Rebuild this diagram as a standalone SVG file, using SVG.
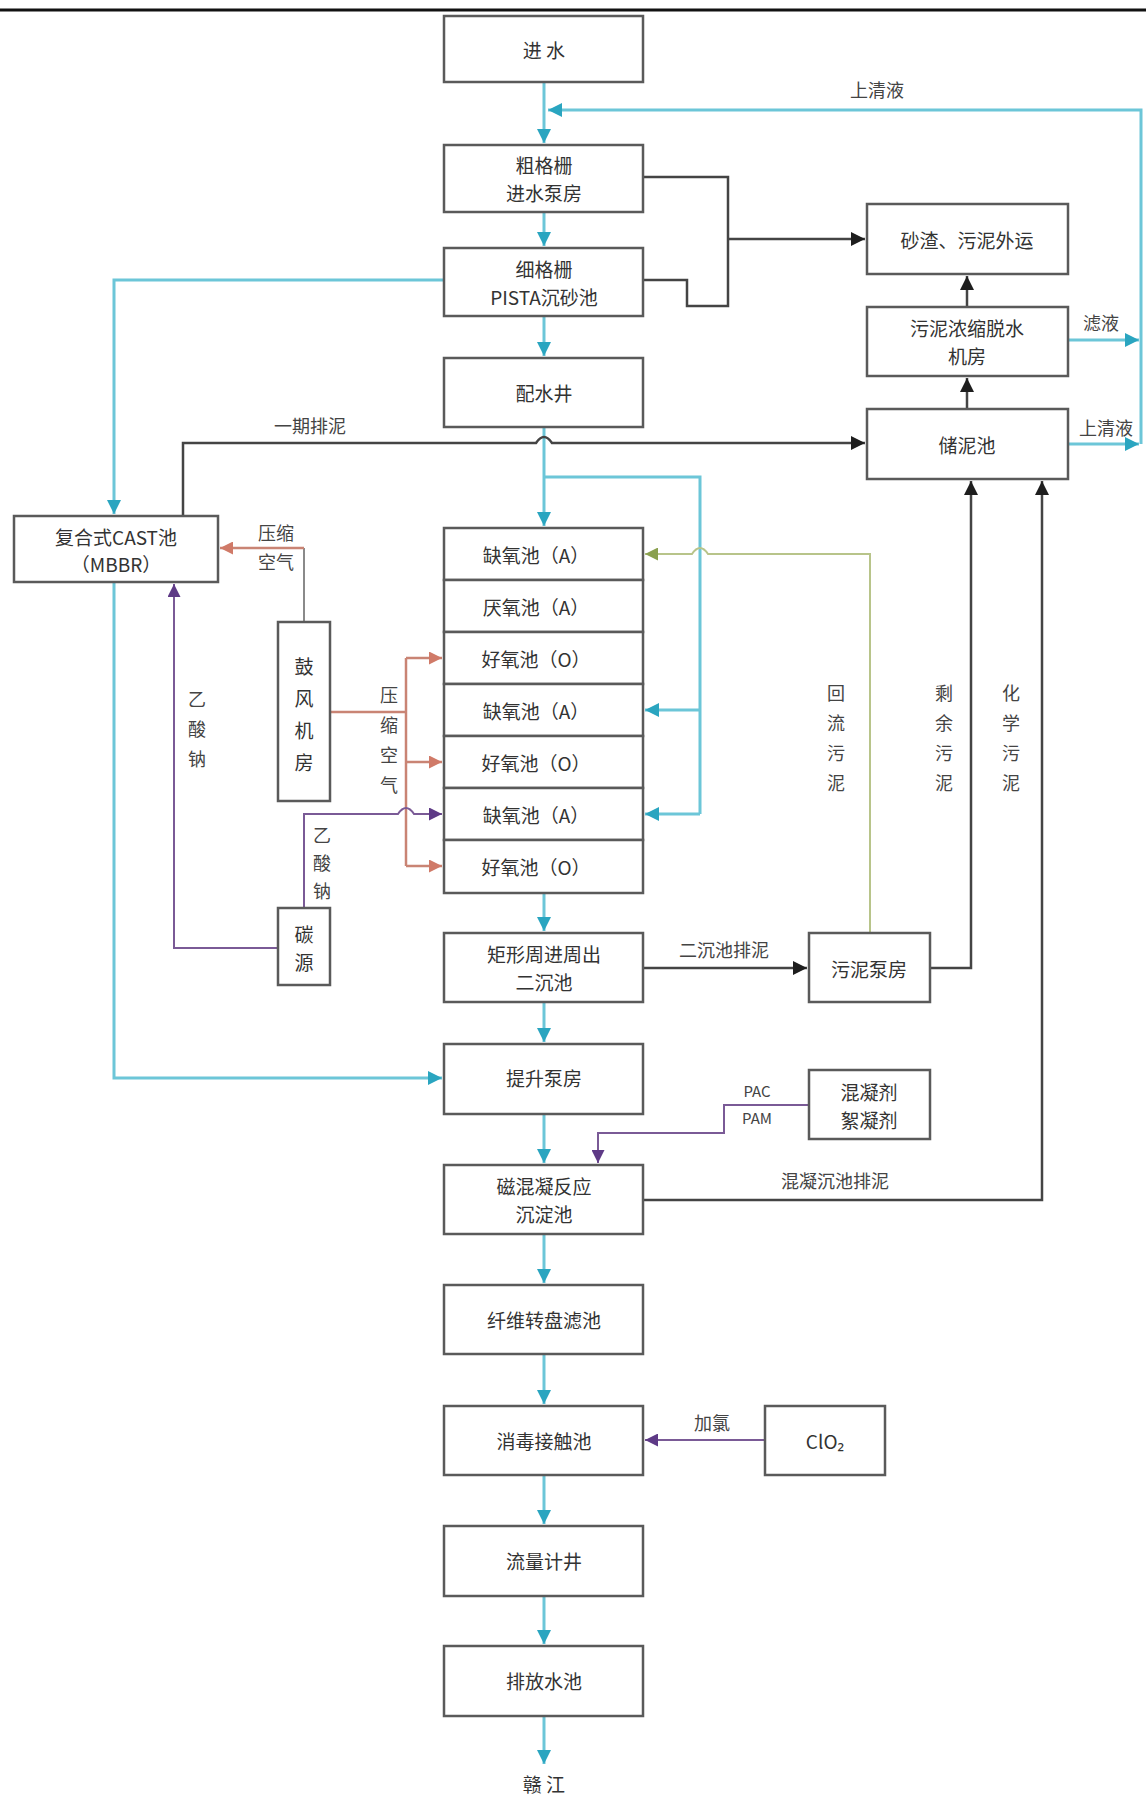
<svg xmlns="http://www.w3.org/2000/svg" width="1146" height="1796" viewBox="0 0 1146 1796">
<style>
.box{fill:#fff;stroke:#5a5a5a;stroke-width:2.5}
.t{font-family:"Noto Sans CJK SC","Noto Sans",sans-serif;font-size:19px;fill:#333;text-anchor:middle;dominant-baseline:central}
.l{font-family:"Noto Sans CJK SC","Noto Sans",sans-serif;font-size:18px;fill:#444;text-anchor:middle;dominant-baseline:central}
.cy{fill:none;stroke:#6cc6d8;stroke-width:3}
.bk{fill:none;stroke:#444;stroke-width:2.5}
.rd{fill:none;stroke:#c98474;stroke-width:2.5}
.gy{fill:none;stroke:#8a8a8a;stroke-width:2}
.pu{fill:none;stroke:#7a5a96;stroke-width:2}
.gr{fill:none;stroke:#b8c48a;stroke-width:2}
</style>
<defs>
<marker id="ac" viewBox="0 0 10 10" refX="10" refY="5" markerWidth="14" markerHeight="14" markerUnits="userSpaceOnUse" orient="auto"><path d="M0,0 L10,5 L0,10 z" fill="#2aa5c0"/></marker>
<marker id="ab" viewBox="0 0 10 10" refX="10" refY="5" markerWidth="14" markerHeight="14" markerUnits="userSpaceOnUse" orient="auto"><path d="M0,0 L10,5 L0,10 z" fill="#1e1e1e"/></marker>
<marker id="ar" viewBox="0 0 10 10" refX="10" refY="5" markerWidth="13" markerHeight="13" markerUnits="userSpaceOnUse" orient="auto"><path d="M0,0 L10,5 L0,10 z" fill="#d07a68"/></marker>
<marker id="ap" viewBox="0 0 10 10" refX="10" refY="5" markerWidth="13" markerHeight="13" markerUnits="userSpaceOnUse" orient="auto"><path d="M0,0 L10,5 L0,10 z" fill="#5e3a86"/></marker>
<marker id="ag" viewBox="0 0 10 10" refX="10" refY="5" markerWidth="13" markerHeight="13" markerUnits="userSpaceOnUse" orient="auto"><path d="M0,0 L10,5 L0,10 z" fill="#8aa04e"/></marker>
</defs>
<rect width="1146" height="1796" fill="#fff"/>
<line x1="0" y1="10" x2="1146" y2="10" stroke="#111" stroke-width="3"/>

<g id="connectors">
<!-- main flow -->
<path class="cy" d="M544,82 V143" marker-end="url(#ac)"/>
<path class="cy" d="M544,212 V246" marker-end="url(#ac)"/>
<path class="cy" d="M544,316 V356" marker-end="url(#ac)"/>
<path class="cy" d="M544,427 V526" marker-end="url(#ac)"/>
<path class="cy" d="M544,893 V931" marker-end="url(#ac)"/>
<path class="cy" d="M544,1002 V1042" marker-end="url(#ac)"/>
<path class="cy" d="M544,1114 V1163" marker-end="url(#ac)"/>
<path class="cy" d="M544,1234 V1283" marker-end="url(#ac)"/>
<path class="cy" d="M544,1354 V1404" marker-end="url(#ac)"/>
<path class="cy" d="M544,1475 V1524" marker-end="url(#ac)"/>
<path class="cy" d="M544,1596 V1644" marker-end="url(#ac)"/>
<path class="cy" d="M544,1716 V1764" marker-end="url(#ac)"/>
<!-- supernatant return -->
<path class="cy" d="M1141,444 V110 H548" marker-end="url(#ac)"/>
<path class="cy" d="M1068,340 H1139" marker-end="url(#ac)"/>
<path class="cy" d="M1068,444 H1139" marker-end="url(#ac)"/>
<!-- bypass to CAST and lift pump -->
<path class="cy" d="M444,280 H114 V514" marker-end="url(#ac)"/>
<path class="cy" d="M114,582 V1078 H442" marker-end="url(#ac)"/>
<!-- distribution to anoxic tanks -->
<path class="cy" d="M544,477 H700 V814"/>
<path class="cy" d="M700,710 H645" marker-end="url(#ac)"/>
<path class="cy" d="M700,814 H645" marker-end="url(#ac)"/>
<!-- screenings -->
<path class="bk" d="M643,177 H728 V306 H687 V280 H643"/>
<path class="bk" d="M728,239 H865" marker-end="url(#ab)"/>
<path class="bk" d="M967,409 V378" marker-end="url(#ab)"/>
<path class="bk" d="M967,307 V276" marker-end="url(#ab)"/>
<!-- phase 1 sludge -->
<path class="bk" d="M183,516 V443 H536 q8,-12 16,0 H865" marker-end="url(#ab)"/>
<!-- return sludge -->
<path class="gr" d="M870,933 V554 H708 q-8,-12 -16,0 H645" marker-end="url(#ag)"/>
<!-- secondary clarifier sludge -->
<path class="bk" d="M643,968 H807" marker-end="url(#ab)"/>
<path class="bk" d="M930,968 H971 V481" marker-end="url(#ab)"/>
<path class="bk" d="M643,1200 H1042 V481" marker-end="url(#ab)"/>
<!-- compressed air -->
<path class="gy" d="M304,622 V548"/>
<path class="rd" d="M304,548 H220" marker-end="url(#ar)"/>
<path class="rd" d="M330,712 H406"/>
<path class="rd" d="M406,658 V866"/>
<path class="rd" d="M406,658 H442" marker-end="url(#ar)"/>
<path class="rd" d="M406,762 H442" marker-end="url(#ar)"/>
<path class="rd" d="M406,866 H442" marker-end="url(#ar)"/>
<!-- sodium acetate -->
<path class="pu" d="M304,908 V814 H398 q8,-12 16,0 H442" marker-end="url(#ap)"/>
<path class="pu" d="M278,948 H174 V584" marker-end="url(#ap)"/>
<!-- coagulants -->
<path class="pu" d="M809,1105 H724 V1133 H598 V1163" marker-end="url(#ap)"/>
<!-- chlorine -->
<path class="pu" d="M765,1440 H645" marker-end="url(#ap)"/>
</g>

<g id="labels">
<text class="l" x="877" y="89">上清液</text>
<text class="l" x="1101" y="322">滤液</text>
<text class="l" x="1106" y="427">上清液</text>
<text class="l" x="310" y="425">一期排泥</text>
<text class="l" x="276" y="532">压缩</text>
<text class="l" x="276" y="561">空气</text>
<text class="l" x="389"><tspan x="389" y="694">压</tspan><tspan x="389" y="724">缩</tspan><tspan x="389" y="754">空</tspan><tspan x="389" y="784">气</tspan></text>
<text class="l" x="197"><tspan x="197" y="698">乙</tspan><tspan x="197" y="728">酸</tspan><tspan x="197" y="758">钠</tspan></text>
<text class="l" x="322"><tspan x="322" y="834">乙</tspan><tspan x="322" y="862">酸</tspan><tspan x="322" y="890">钠</tspan></text>
<text class="l" x="836"><tspan x="836" y="692">回</tspan><tspan x="836" y="722">流</tspan><tspan x="836" y="752">污</tspan><tspan x="836" y="782">泥</tspan></text>
<text class="l" x="944"><tspan x="944" y="692">剩</tspan><tspan x="944" y="722">余</tspan><tspan x="944" y="752">污</tspan><tspan x="944" y="782">泥</tspan></text>
<text class="l" x="1011"><tspan x="1011" y="692">化</tspan><tspan x="1011" y="722">学</tspan><tspan x="1011" y="752">污</tspan><tspan x="1011" y="782">泥</tspan></text>
<text class="l" x="724" y="949">二沉池排泥</text>
<text class="l" x="835" y="1180">混凝沉池排泥</text>
<text class="l" x="757" y="1090" style="font-size:15px">PAC</text>
<text class="l" x="757" y="1117" style="font-size:15px">PAM</text>
<text class="l" x="712" y="1422">加氯</text>
<text class="t" x="544" y="1783">赣 江</text>
</g>

<g id="n_inlet"><rect class="box" x="444" y="16" width="199" height="66"/><text class="t" x="544" y="49">进 水</text></g>
<g id="n_coarse"><rect class="box" x="444" y="145" width="199" height="67"/><text class="t" x="544" y="164">粗格栅</text><text class="t" x="544" y="192">进水泵房</text></g>
<g id="n_fine"><rect class="box" x="444" y="248" width="199" height="68"/><text class="t" x="544" y="268">细格栅</text><text class="t" x="544" y="296">PISTA沉砂池</text></g>
<g id="n_dist"><rect class="box" x="444" y="358" width="199" height="69"/><text class="t" x="544" y="392">配水井</text></g>

<g id="n_tanks">
<rect class="box" x="444" y="528" width="199" height="52"/><text class="t" x="536" y="554">缺氧池（A）</text>
<rect class="box" x="444" y="580" width="199" height="52"/><text class="t" x="536" y="606">厌氧池（A）</text>
<rect class="box" x="444" y="632" width="199" height="52"/><text class="t" x="536" y="658">好氧池（O）</text>
<rect class="box" x="444" y="684" width="199" height="52"/><text class="t" x="536" y="710">缺氧池（A）</text>
<rect class="box" x="444" y="736" width="199" height="52"/><text class="t" x="536" y="762">好氧池（O）</text>
<rect class="box" x="444" y="788" width="199" height="52"/><text class="t" x="536" y="814">缺氧池（A）</text>
<rect class="box" x="444" y="840" width="199" height="53"/><text class="t" x="536" y="866">好氧池（O）</text>
</g>

<g id="n_sec"><rect class="box" x="444" y="933" width="199" height="69"/><text class="t" x="544" y="953">矩形周进周出</text><text class="t" x="544" y="981">二沉池</text></g>
<g id="n_lift"><rect class="box" x="444" y="1044" width="199" height="70"/><text class="t" x="544" y="1077">提升泵房</text></g>
<g id="n_mag"><rect class="box" x="444" y="1165" width="199" height="69"/><text class="t" x="544" y="1185">磁混凝反应</text><text class="t" x="544" y="1213">沉淀池</text></g>
<g id="n_fiber"><rect class="box" x="444" y="1285" width="199" height="69"/><text class="t" x="544" y="1319">纤维转盘滤池</text></g>
<g id="n_disinf"><rect class="box" x="444" y="1406" width="199" height="69"/><text class="t" x="544" y="1440">消毒接触池</text></g>
<g id="n_flow"><rect class="box" x="444" y="1526" width="199" height="70"/><text class="t" x="544" y="1560">流量计井</text></g>
<g id="n_outlet"><rect class="box" x="444" y="1646" width="199" height="70"/><text class="t" x="544" y="1680">排放水池</text></g>

<g id="n_cast"><rect class="box" x="14" y="516" width="204" height="66"/><text class="t" x="116" y="536">复合式CAST池</text><text class="t" x="116" y="563">（MBBR）</text></g>
<g id="n_blower"><rect class="box" x="278" y="622" width="52" height="179"/><text class="t" x="304"><tspan x="304" y="665">鼓</tspan><tspan x="304" y="697">风</tspan><tspan x="304" y="729">机</tspan><tspan x="304" y="761">房</tspan></text></g>
<g id="n_carbon"><rect class="box" x="278" y="908" width="52" height="77"/><text class="t" x="304"><tspan x="304" y="933">碳</tspan><tspan x="304" y="961">源</tspan></text></g>

<g id="n_grit"><rect class="box" x="867" y="204" width="201" height="70"/><text class="t" x="967" y="239">砂渣、污泥外运</text></g>
<g id="n_dewater"><rect class="box" x="867" y="307" width="201" height="69"/><text class="t" x="967" y="327">污泥浓缩脱水</text><text class="t" x="967" y="355">机房</text></g>
<g id="n_store"><rect class="box" x="867" y="409" width="201" height="70"/><text class="t" x="967" y="444">储泥池</text></g>
<g id="n_spump"><rect class="box" x="809" y="933" width="121" height="69"/><text class="t" x="869" y="968">污泥泵房</text></g>
<g id="n_chem"><rect class="box" x="809" y="1070" width="121" height="69"/><text class="t" x="869" y="1091">混凝剂</text><text class="t" x="869" y="1119">絮凝剂</text></g>
<g id="n_clo2"><rect class="box" x="765" y="1406" width="120" height="69"/><text class="t" x="825" y="1440">ClO₂</text></g>
</svg>
